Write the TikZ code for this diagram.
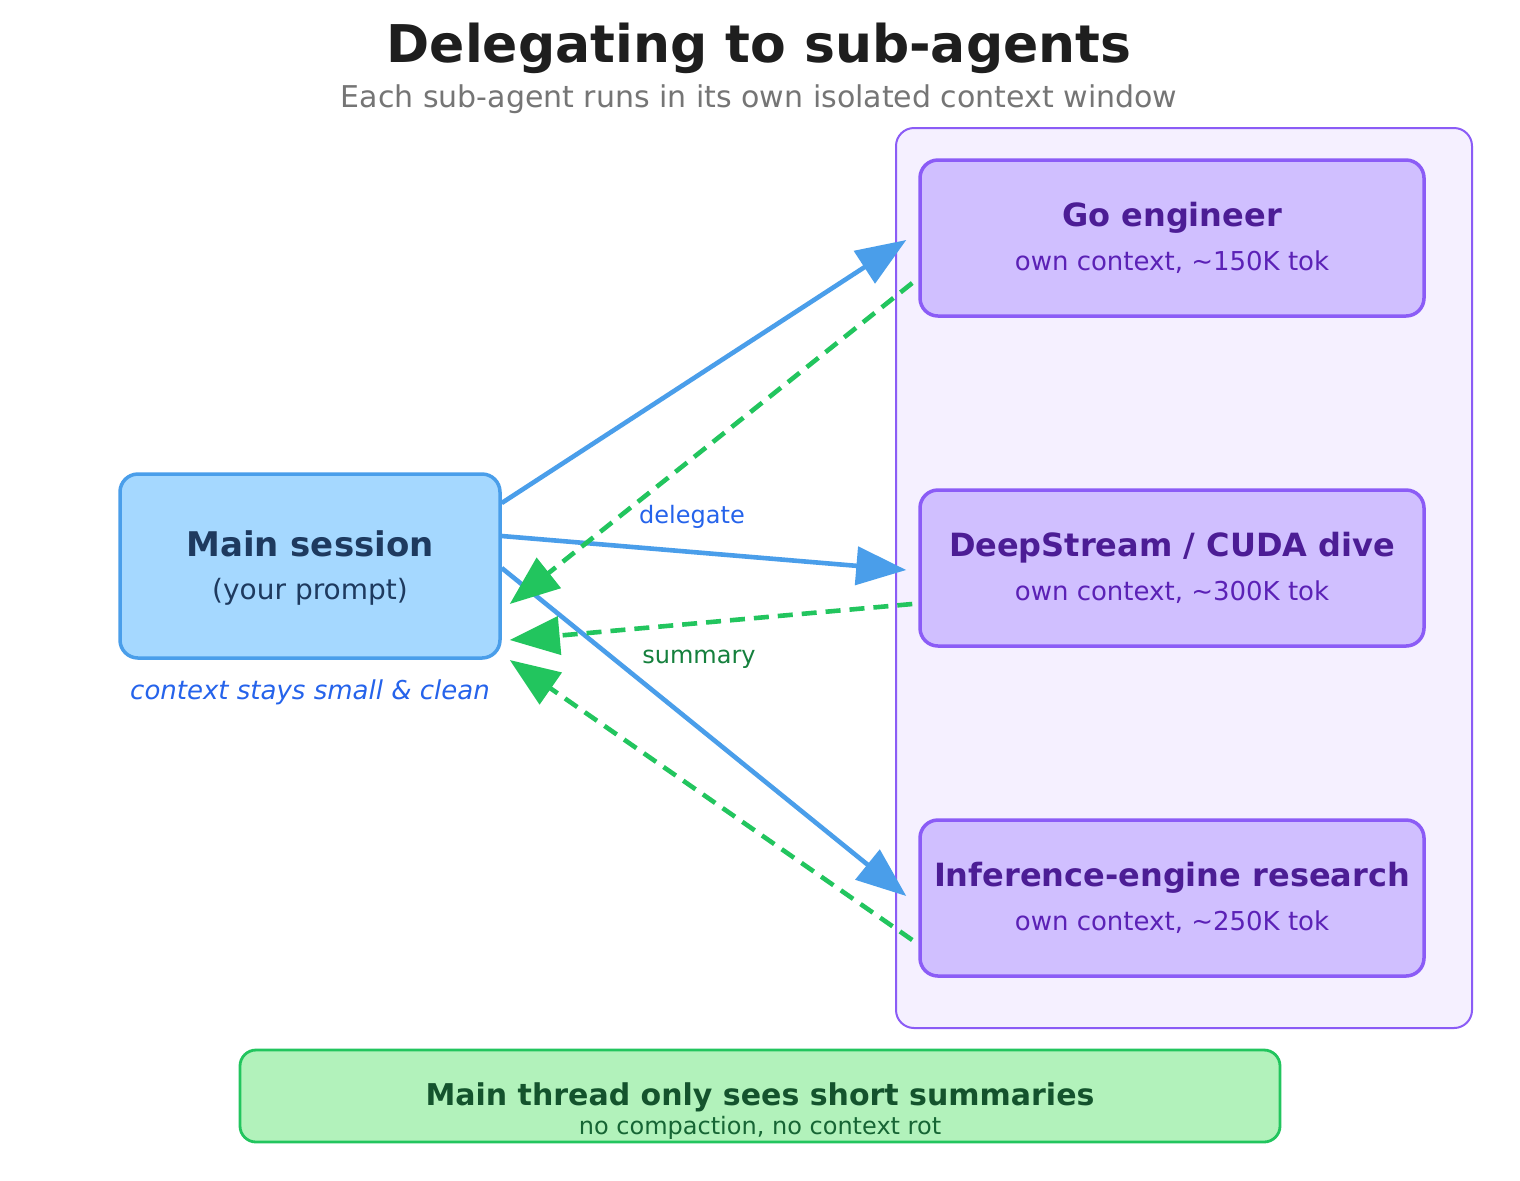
\documentclass[tikz,border=0pt]{standalone}
\usepackage{fontspec}
\setmainfont{DejaVu Sans}
\usetikzlibrary{arrows.meta}
\definecolor{titlec}{HTML}{1E1E1E}
\definecolor{subc}{HTML}{757575}
\definecolor{mainfill}{HTML}{A5D8FF}
\definecolor{mainline}{HTML}{4A9EEA}
\definecolor{maintext}{HTML}{1E3A5F}
\definecolor{contfill}{HTML}{F5F0FF}
\definecolor{purpline}{HTML}{8B5CF6}
\definecolor{purpfill}{HTML}{D0BFFF}
\definecolor{purptitle}{HTML}{4C1D95}
\definecolor{purpsub}{HTML}{5B21B6}
\definecolor{grn}{HTML}{22C55E}
\definecolor{grnfill}{HTML}{B2F2BB}
\definecolor{grntext}{HTML}{14532D}
\definecolor{grnsub}{HTML}{166534}
\definecolor{bluelab}{HTML}{2563EB}
\definecolor{grnlab}{HTML}{15803D}
\begin{document}
\begin{tikzpicture}[x=0.5pt,y=-0.5pt,
  txt/.style={inner sep=0pt, anchor=base},
  mainbox/.style={draw=mainline, fill=mainfill, line width=1.75pt, rounded corners=9pt, minimum width=190pt, minimum height=92pt, inner sep=0pt},
  contbox/.style={draw=purpline, fill=contfill, line width=1pt, rounded corners=9pt, minimum width=288pt, minimum height=450pt, inner sep=0pt},
  agentbox/.style={draw=purpline, fill=purpfill, line width=1.75pt, rounded corners=9pt, minimum width=252pt, minimum height=78pt, inner sep=0pt},
  notebox/.style={draw=grn, fill=grnfill, line width=1.4pt, rounded corners=8pt, minimum width=520pt, minimum height=46pt, inner sep=0pt},
  agenttitle/.style={txt, text=purptitle, font=\fontsize{16pt}{19pt}\selectfont\bfseries},
  agentsub/.style={txt, text=purpsub, font=\fontsize{13pt}{16pt}\selectfont},
  delegarrow/.style={draw=mainline, line width=2.3pt, -{Triangle[length=25pt,width=19pt]}},
  summarrow/.style={draw=grn, line width=2.3pt, dash pattern=on 7.5pt off 4.5pt, -{Triangle[length=25pt,width=19pt]}},
]
\useasboundingbox[fill=white] (0,0) rectangle (1520,1180);

% title
\node[txt, text=titlec, font=\fontsize{26pt}{30pt}\selectfont\bfseries] (title) at (759,62) {Delegating to sub-agents};
\node[txt, text=subc, font=\fontsize{15pt}{18pt}\selectfont] (subtitle) at (759,107) {Each sub-agent runs in its own isolated context window};

% container
\node[contbox] (cont) at (1184,578) {};

% main session
\node[mainbox] (main) at (310,566) {};
\node[txt, text=maintext, font=\fontsize{17pt}{20pt}\selectfont\bfseries] (maint) at (310,556) {Main session};
\node[txt, text=maintext, font=\fontsize{14pt}{17pt}\selectfont] (mains) at (310,599) {(your prompt)};
\node[txt, text=bluelab, font=\fontsize{13pt}{16pt}\selectfont\itshape] (mainnote) at (310,699) {context stays small \& clean};

% agents
\node[agentbox] (go) at (1172,238) {};
\node[agenttitle] (got) at (1172,226) {Go engineer};
\node[agentsub] (gos) at (1172,270) {own context, \textasciitilde150K tok};

\node[agentbox] (ds) at (1172,568) {};
\node[agenttitle] (dst) at (1172,556) {DeepStream / CUDA dive};
\node[agentsub] (dss) at (1172,600) {own context, \textasciitilde300K tok};

\node[agentbox] (ie) at (1172,898) {};
\node[agenttitle] (iet) at (1172,886) {Inference-engine research};
\node[agentsub] (ies) at (1172,930) {own context, \textasciitilde250K tok};

% delegate arrows
\draw[delegarrow] ([yshift=31.5pt]main.east) -- ([xshift=-6pt,yshift=-1pt]go.west);
\draw[delegarrow] ([yshift=15pt]main.east) -- ([xshift=-6pt,yshift=-1pt]ds.west);
\draw[delegarrow] ([yshift=-1pt]main.east) -- ([xshift=-6pt,yshift=1pt]ie.west);

% summary arrows
\draw[summarrow] ([xshift=-3pt,yshift=-22.5pt]go.west) -- ([xshift=4pt,yshift=-19pt]main.east);
\draw[summarrow] ([xshift=-3pt,yshift=-18pt]ds.west) -- ([xshift=4pt,yshift=-37pt]main.east);
\draw[summarrow] ([xshift=-3pt,yshift=-21pt]ie.west) -- ([xshift=4pt,yshift=-47pt]main.east);

% labels
\node[txt, text=bluelab, font=\fontsize{12pt}{14pt}\selectfont] (dlab) at (692,523) {delegate};
\node[txt, text=grnlab, font=\fontsize{12pt}{14pt}\selectfont] (slab) at (699,663) {summary};

% bottom note
\node[notebox] (note) at (760,1096) {};
\node[txt, text=grntext, font=\fontsize{15pt}{18pt}\selectfont\bfseries] (notet) at (760,1105) {Main thread only sees short summaries};
\node[txt, text=grnsub, font=\fontsize{12pt}{14pt}\selectfont] (notes) at (760,1134) {no compaction, no context rot};
\end{tikzpicture}
\end{document}
